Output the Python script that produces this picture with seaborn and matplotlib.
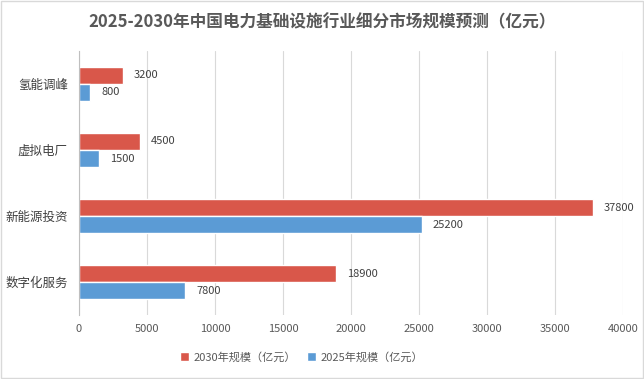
import matplotlib.pyplot as plt
import seaborn as sns
import pandas as pd

categories = ['氢能调峰', '虚拟电厂', '新能源投资', '数字化服务']
values_2030 = [3200, 4500, 37800, 18900]
values_2025 = [800, 1500, 25200, 7800]
series_names = ['2030年规模（亿元）', '2025年规模（亿元）']
x_ticks = [0, 5000, 10000, 15000, 20000, 25000, 30000, 35000, 40000]

sns.set_style('white')
plt.rcParams['font.family'] = ['Noto Sans CJK SC', 'DejaVu Sans']

df = pd.DataFrame({
    '类别': categories * 2,
    '数值': values_2030 + values_2025,
    '系列': [series_names[0]] * 4 + [series_names[1]] * 4,
})

fig = plt.figure(figsize=(6.44, 3.79), dpi=100)
ax = fig.add_axes([0.1227, 0.168, 0.8443, 0.698])

sns.barplot(data=df, x='数值', y='类别', hue='系列', order=categories,
            hue_order=series_names, palette=['#d9574a', '#5b9bd5'],
            orient='h', width=0.52, ax=ax, saturation=1)

# 数据标签
for cont in ax.containers:
    ax.bar_label(cont, fmt='%d', padding=8, fontsize=8, color='#404040')

ax.set_xlim(0, 40000)
ax.set_xticks(x_ticks)
ax.set_xticklabels([str(t) for t in x_ticks], fontsize=8, color='#595959')
ax.tick_params(axis='y', labelsize=9, labelcolor='#404040', length=0, pad=8)
ax.tick_params(axis='x', length=0, pad=6)
ax.set_xlabel('')
ax.set_ylabel('')
ax.grid(axis='x', color='#d9d9d9', linewidth=0.8)
ax.set_axisbelow(True)
for side in ['top', 'right', 'bottom']:
    ax.spines[side].set_visible(False)
ax.spines['left'].set_color('#bfbfbf')

fig.suptitle('2025-2030年中国电力基础设施行业细分市场规模预测（亿元）',
             x=0.5, y=0.965, fontsize=12, fontweight='bold', color='#595959')

ax.legend(loc='upper center', bbox_to_anchor=(0.41, -0.1), ncol=2, frameon=False,
          fontsize=8, handlelength=0.8, handleheight=0.8, columnspacing=1.0,
          handletextpad=0.4, labelcolor='#595959')

# 外边框
fig.patches.append(plt.Rectangle((0.002, 0.003), 0.996, 0.994, transform=fig.transFigure,
                                 fill=False, edgecolor='#d9d9d9', linewidth=1))

plt.savefig('out.png', dpi=100)
plt.close()
